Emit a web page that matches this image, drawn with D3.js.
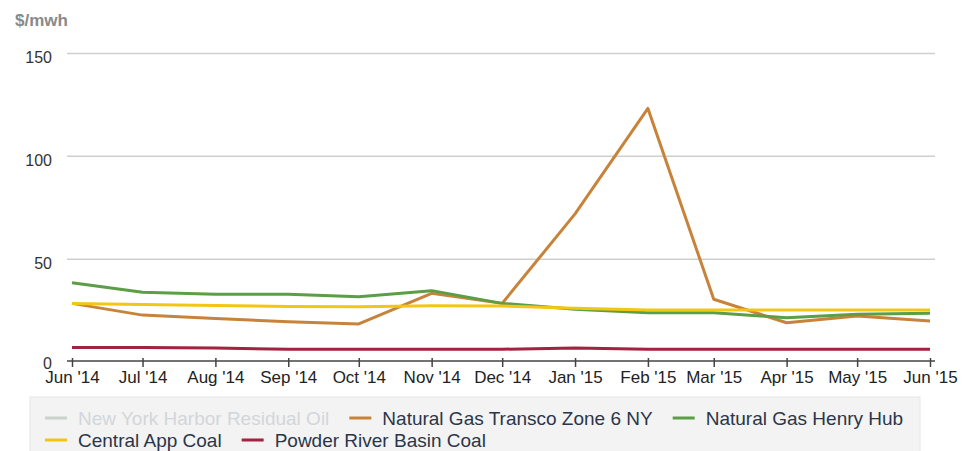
<!DOCTYPE html>
<html><head><meta charset="utf-8">
<script src="https://cdn.jsdelivr.net/npm/d3@7"></script>
<style>
body{margin:0;background:#fff}
svg{display:block;font-family:"Liberation Sans",Arial,Helvetica,sans-serif}
</style>
</head><body>
<svg id="chart" width="967" height="451"></svg>
<script>
// ---- data ----
const months = ["2014-06","2014-07","2014-08","2014-09","2014-10","2014-11","2014-12","2015-01","2015-02","2015-03","2015-04","2015-05","2015-06"];
const tickLabels = ["Jun '14","Jul '14","Aug '14","Sep '14","Oct '14","Nov '14","Dec '14","Jan '15","Feb '15","Mar '15","Apr '15","May '15","Jun '15"];
const yTicks = [0, 50, 100, 150];
const unitLabel = "$/mwh";
const seriesNames = ["New York Harbor Residual Oil","Natural Gas Transco Zone 6 NY","Natural Gas Henry Hub","Central App Coal","Powder River Basin Coal"];
const seriesColors = ["#c9d3cc","#c8833a","#5b9e45","#f3c614","#a3223f"];
const seriesVisible = [false, true, true, true, true];
const nyHarborResidualOil = [];
const transcoZone6NY = [28.5,22.8,21.2,19.6,18.5,33.4,28.5,72,123.3,30.5,19.1,22.4,19.9];
const henryHub = [38.5,33.9,33,33,31.7,34.7,28.5,25.6,24,24,21.5,23.2,23.7];
const centralAppCoal = [28.5,28,27.5,27,26.9,27.4,27.2,26.1,25.3,25.3,25.3,25.3,25.3];
const powderRiverBasinCoal = [7,7,6.8,6.2,6.2,6.2,6.2,6.8,6.2,6.2,6.2,6.2,6.2];
const seriesValues = [nyHarborResidualOil, transcoZone6NY, henryHub, centralAppCoal, powderRiverBasinCoal];

// ---- drawing ----
const svg = d3.select("#chart");
const parse = d3.timeParse("%Y-%m");
const dates = months.map(parse);

const x = d3.scaleTime().domain(d3.extent(dates)).range([72, 930]);
const y = d3.scaleLinear().domain([0, 150]).range([362, 53.5]);

// gridlines
svg.append("g").selectAll("line").data(yTicks.filter(d => d > 0)).join("line")
  .attr("x1", 67).attr("x2", 935)
  .attr("y1", d => y(d)).attr("y2", d => y(d))
  .attr("stroke", "#cfcfcf").attr("stroke-width", 1.5);

// y labels
svg.append("g").selectAll("text").data(yTicks).join("text")
  .attr("x", 52).attr("y", d => y(d) + (d === 0 ? 1 : 4))
  .attr("dy", "0.35em")
  .attr("text-anchor", "end")
  .attr("font-size", 16).attr("fill", "#333")
  .text(d => d);

svg.append("text").attr("x", 15).attr("y", 26)
  .attr("font-size", 17).attr("font-weight", "bold").attr("fill", "#8a8a8a")
  .text(unitLabel);

// x axis
const xAxis = d3.axisBottom(x)
  .tickValues(dates)
  .tickFormat((d, i) => tickLabels[i])
  .tickSize(6).tickSizeOuter(0);
const gx = svg.append("g").attr("transform", `translate(0,${y(0) - 1})`).call(xAxis);
gx.select(".domain").attr("stroke", "#444").attr("stroke-width", 1.5)
  .attr("d", `M67,0H935`);
gx.selectAll(".tick line").attr("stroke", "#444").attr("stroke-width", 1.5).attr("y1", -3).attr("y2", 6);
gx.selectAll(".tick text").attr("font-size", 17).attr("fill", "#222")
  .attr("font-family", '"Liberation Sans",Arial,sans-serif').attr("y", 10);

// lines
const line = d3.line().x((d, i) => x(dates[i])).y(d => y(d)).curve(d3.curveLinear);
svg.append("g").selectAll("path").data(seriesValues.map((v, i) => ({v, i})).filter(d => seriesVisible[d.i] && d.v.length))
  .join("path")
  .attr("d", d => line(d.v))
  .attr("fill", "none")
  .attr("stroke", d => seriesColors[d.i])
  .attr("stroke-width", 3)
  .attr("stroke-linejoin", "round");

// legend
const lg = svg.append("g");
lg.append("rect").attr("x", 30).attr("y", 397).attr("width", 890).attr("height", 60)
  .attr("fill", "#f3f3f3").attr("stroke", "#e6e6e6");
let lx = 45, row = 0;
const rowY = [418, 440];
seriesNames.forEach((name, i) => {
  const g = lg.append("g");
  const t = g.append("text").attr("font-size", 19)
    .attr("fill", seriesVisible[i] ? "#2b3648" : "#d2d6da")
    .attr("dy", "0.35em").text(name);
  const w = t.node().getComputedTextLength();
  if (lx + 33 + w > 920) { row++; lx = 45; }
  const cy = rowY[row];
  g.insert("line", "text").attr("x1", lx).attr("x2", lx + 22).attr("y1", cy).attr("y2", cy)
    .attr("stroke", seriesColors[i]).attr("stroke-width", 3);
  t.attr("x", lx + 33).attr("y", cy);
  lx += 33 + w + 20;
});
</script>
</body></html>
